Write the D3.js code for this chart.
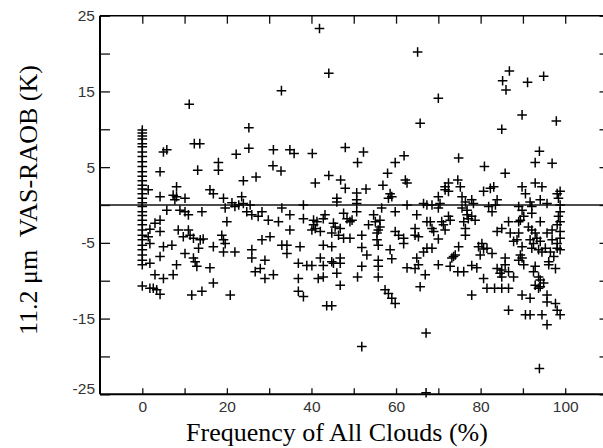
<!DOCTYPE html>
<html>
<head>
<meta charset="utf-8">
<script src="https://cdn.jsdelivr.net/npm/d3@7"></script>
<style>
  body { margin: 0; background: #fff; }
  svg { display: block; }
</style>
</head>
<body>
<svg id="chart" width="603" height="448"></svg>
<script>
// tick values / labels
var xTicks = [0, 10, 20, 30, 40, 50, 60, 70, 80, 90, 100];
var xLabels = [0, 20, 40, 60, 80, 100];
var yTicks = [-25, -20, -15, -10, -5, 0, 5, 10, 15, 20, 25];
var yLabels = [-25, -15, -5, 5, 15, 25];

// cases with 0% cloud frequency (the column at x = 0), VAS-RAOB in K
var clearBias = [9.9, 9.5, 9.1, 8.7, 8.1, 7.7, 7.0, 6.4, 5.7, 5.1, 4.4, 3.8, 3.2, 2.6, 2.1, 1.5,
    0.9, 0.3, -0.2, -0.9, -1.4, -2.0, -2.6, -3.3, -4.0, -4.6, -5.3, -5.9, -6.6, -7.3, -7.9, -10.7];

// [frequency of all clouds (%), VAS-RAOB (K)]
var cloudyCases = [
  [41.9,23.3],[44.1,17.4],[32.9,15.1],[11.1,13.3],[25.2,10.2],[25.2,7.5],[12.3,8.1],[13.6,8.1],
  [5.0,7.0],[5.8,7.3],[4.2,4.4],[4.2,1.1],[13.1,4.6],[18.0,5.6],[18.0,4.6],[22.2,6.7],
  [23.9,3.2],[26.9,3.7],[31.0,7.3],[30.9,5.2],[32.8,4.5],[34.9,7.3],[35.9,6.8],[40.2,6.8],
  [40.9,2.9],[44.1,3.9],[46.9,3.3],[48.0,2.2],[48.0,7.6],[46.0,0.9],[46.0,0.4],

  [1.4,2.0],[8.1,2.4],[7.3,1.3],[8.1,1.1],[7.7,0.7],[10.1,0.9],[16.0,2.0],[16.8,1.5],
  [19.2,0.9],[21.2,0.3],[23.5,1.1],[23.9,0.2],[25.5,0.0],[22.8,0.0],[21.9,-0.2],[33.0,-0.4],
  [5.8,-0.7],[8.9,-0.7],[10.1,-0.9],[10.9,-1.3],[14.1,-0.9],[19.6,-0.4],[20.0,-2.2],[24.7,-0.9],
  [25.9,-1.3],[27.4,-1.5],[28.3,-0.9],[29.8,-2.0],[32.2,-2.2],[4.2,-2.0],[3.0,-2.4],[1.8,-3.2],
  [4.2,-3.5],[8.5,-3.3],[10.9,-3.3],[11.3,-4.0],[9.7,-4.2],[12.1,-4.4],[13.7,-4.6],[14.4,-4.5],
  [18.8,-4.0],[19.2,-4.6],[19.6,-5.1],[16.8,-5.5],[1.4,-4.2],[1.8,-5.1],[7.0,-5.3],[5.0,-5.5],
  [28.3,-4.6],[30.2,-4.2],[33.0,-5.3],

  [10.1,-6.4],[12.1,-7.0],[12.5,-7.5],[13.3,-5.7],[19.2,-6.2],[21.9,-6.2],[4.2,-6.8],[1.8,-7.7],
  [8.1,-7.9],[12.9,-8.1],[16.0,-8.3],[3.0,-9.2],[5.0,-9.7],[7.3,-9.2],[16.8,-10.3],[1.8,-11.0],
  [2.6,-11.0],[3.4,-11.2],[4.2,-11.8],[11.7,-11.9],[14.1,-11.4],[20.8,-11.9],[25.9,-5.9],[25.9,-7.0],
  [29.0,-7.3],[26.7,-8.8],[27.9,-8.4],[29.0,-9.7],[31.0,-9.2],

  [52.3,7.0],[50.9,5.6],[59.8,5.6],[61.9,6.5],[58.0,4.2],[52.9,2.1],[50.7,1.6],[56.9,2.6],
  [62.2,3.3],[62.6,2.9],[58.6,1.5],[59.0,1.1],[58.2,0.9],[50.7,0.7],[50.7,0.2],[50.7,-0.9],
  [38.1,0.0],[56.6,-0.4],[59.8,-0.9],[62.6,0.0],[64.9,-1.3],[66.5,0.2],[67.3,0.0],[68.5,0.0],
  [34.9,-1.3],[38.1,-1.8],[40.5,-2.0],[41.3,-2.2],[40.5,-2.6],[43.2,-1.3],[42.8,-1.8],[45.2,-2.4],
  [45.6,-2.9],[46.8,-3.1],[47.6,-1.1],[48.4,-1.8],[49.1,-2.2],[49.6,-2.0],[54.7,-1.3],[55.1,-2.2],
  [56.2,-2.0],[56.2,-2.9],[55.8,-3.3],[53.5,-2.6],[34.9,-3.3],[40.1,-3.3],[40.9,-3.1],[42.1,-3.5],
  [44.8,-3.7],[46.4,-4.0],[47.6,-4.4],[49.1,-4.4],[51.9,-4.0],[55.5,-3.7],[55.5,-4.6],[55.8,-5.3],
  [59.8,-3.5],[60.6,-4.0],[61.8,-4.4],[61.8,-5.1],[64.5,-3.1],[64.5,-4.0],[65.3,-4.2],[67.3,-2.2],
  [34.2,-5.3],[37.3,-5.5],[42.8,-5.3],[44.8,-5.5],[51.9,-5.6],

  [34.2,-6.4],[36.9,-7.7],[38.9,-8.0],[40.1,-8.0],[42.1,-7.0],[42.8,-8.0],[44.8,-7.5],[45.2,-7.7],
  [46.8,-7.0],[46.8,-7.7],[36.9,-9.7],[41.6,-9.7],[42.8,-9.5],[46.0,-9.0],[46.8,-10.6],[36.9,-11.4],
  [38.1,-12.1],[43.6,-13.3],[44.8,-13.3],[53.1,-6.6],[51.9,-8.1],[50.9,-9.5],[58.6,-5.9],[55.8,-7.3],
  [55.8,-8.1],[55.8,-9.5],[59.0,-7.1],[57.4,-11.2],[58.2,-11.7],[59.0,-12.3],[59.8,-13.0],[62.6,-8.3],
  [64.9,-7.0],[65.3,-7.9],[64.5,-8.4],[65.7,-10.8],[67.1,-16.9],[66.5,-6.2],[67.3,-5.7],[66.9,-9.2],
  [51.9,-18.7],[93.9,-21.6],[67.1,-24.8],

  [65.1,20.2],[70.0,14.1],[65.7,10.8],[86.8,17.7],[85.2,16.4],[86.0,15.2],[91.1,16.2],[94.9,17.0],
  [89.8,11.9],[97.9,11.1],[85.0,10.0],[74.8,6.2],[80.9,5.1],[85.8,4.2],[93.9,7.1],[92.9,5.6],
  [96.9,5.5],

  [74.6,3.3],[75.2,2.4],[72.4,2.9],[71.6,2.4],[71.6,2.0],[72.4,1.8],[70.0,1.1],[70.4,0.2],
  [70.0,-0.4],[75.6,1.1],[76.4,0.4],[77.9,0.7],[78.3,0.2],[75.6,-0.4],[76.8,-0.7],[77.9,-1.5],
  [78.7,-2.0],[80.7,1.8],[82.3,2.2],[83.1,2.4],[83.9,0.7],[83.5,0.0],[81.9,-0.2],[82.7,-0.9],
  [89.8,2.4],[90.6,1.5],[89.0,-0.2],[89.8,-0.7],[90.2,-1.5],[89.4,-2.0],[91.7,0.4],[92.1,-0.2],
  [92.1,-1.1],[92.9,2.9],[94.5,2.4],[94.1,0.7],[95.7,0.2],[98.1,1.5],[98.8,1.8],[98.4,0.9],
  [98.8,0.0],[98.8,-0.9],[98.4,-1.5],[98.8,-2.2],

  [68.1,-2.2],[68.5,-3.1],[68.9,-3.5],[70.8,-2.2],[71.2,-2.6],[71.6,-3.3],[72.8,-2.0],[72.4,-1.5],
  [70.0,-4.5],[74.8,-5.5],[76.4,-4.0],[76.4,-3.1],[76.0,-2.2],[77.1,-1.8],[76.8,-1.3],[79.5,-5.5],
  [80.3,-5.1],[80.7,-5.8],[83.9,-3.5],[85.0,-3.1],[86.6,-2.2],[87.0,-3.7],[87.8,-4.8],[89.0,-2.2],
  [89.0,-3.7],[88.6,-4.6],[89.8,-5.5],[91.3,-2.9],[92.1,-3.3],[92.9,-3.7],[94.1,-2.2],[91.7,-4.6],
  [92.5,-5.1],[93.3,-4.4],[94.1,-4.8],[95.7,-3.7],[96.9,-3.3],[96.9,-4.6],[98.1,-5.1],[98.8,-4.4],
  [98.8,-3.5],[98.1,-2.6],

  [68.5,-5.7],[81.5,-5.7],[82.7,-6.4],[79.9,-6.6],[85.8,-7.0],[85.8,-7.9],[89.4,-6.6],[89.8,-7.0],
  [89.0,-7.3],[90.2,-7.9],[92.1,-5.7],[93.7,-5.9],[94.5,-6.2],[95.3,-5.7],[96.5,-6.2],[98.1,-5.7],
  [98.8,-5.9],[97.3,-6.8],[96.1,-7.5],[96.1,-7.9],[97.7,-8.4],[73.2,-7.0],[72.8,-8.1],[73.6,-6.8],
  [74.0,-6.6],[70.0,-7.9],[76.0,-8.8],[74.6,-8.8],[79.1,-8.3],[77.9,-8.0],[83.9,-8.4],[85.0,-8.6],
  [85.0,-9.5],[84.6,-9.0],[86.6,-8.8],[87.8,-9.5],[92.9,-8.1],[92.5,-8.8],[93.7,-9.5],[94.1,-9.9],
  [92.9,-10.6],[94.1,-10.8],[93.7,-11.0],[94.9,-10.3],[80.7,-9.7],[81.5,-11.0],[83.3,-11.0],[85.0,-11.0],
  [86.6,-11.0],[77.9,-11.9],[89.8,-11.9],[91.7,-12.3],[95.7,-11.9],[95.7,-12.8],[97.7,-13.0],[98.1,-13.9],
  [98.8,-14.5],[86.6,-13.9],[90.6,-14.5],[91.7,-14.5],[94.5,-14.5],[95.7,-15.8]
];

var points = clearBias.map(function(v) { return [0, v]; }).concat(cloudyCases);

var svg = d3.select("#chart");

var x = d3.scaleLinear().domain([-10, 110]).range([100, 607.5]);
var y = d3.scaleLinear().domain([-25, 25]).range([394.3, 15.7]);

var tickFont = '"Liberation Sans", Arial, sans-serif';

// inner ticks on all four sides
svg.append("g")
    .attr("transform", "translate(0," + y(25) + ")")
    .call(d3.axisTop(x).tickValues(xTicks).tickSize(-8).tickFormat(""));

svg.append("g")
    .attr("class", "x-axis")
    .attr("transform", "translate(0," + y(-25) + ")")
    .call(d3.axisBottom(x).tickValues(xTicks).tickSize(-6).tickPadding(7)
        .tickFormat(function(d) { return xLabels.indexOf(d) >= 0 ? d : ""; }));

svg.append("g")
    .attr("class", "y-axis")
    .attr("transform", "translate(" + x(-10) + ",0)")
    .call(d3.axisLeft(y).tickValues(yTicks).tickSize(-10).tickPadding(5)
        .tickFormat(function(d) { return yLabels.indexOf(d) >= 0 ? d : ""; }));

svg.append("g")
    .attr("transform", "translate(" + x(110) + ",0)")
    .call(d3.axisRight(y).tickValues(yTicks).tickSize(-8).tickFormat(""));

svg.selectAll(".domain").remove();
svg.selectAll(".tick line").attr("stroke", "#111").attr("stroke-width", 1.3);
svg.selectAll(".tick text")
    .attr("font-family", tickFont)
    .attr("font-size", 15.5)
    .attr("fill", "#333");
// the -25 label sits a little above its tick
svg.select(".y-axis").selectAll(".tick text")
    .filter(function(d) { return d === -25; })
    .attr("dy", "-0.05em");

// frame
svg.append("line")
    .attr("x1", x(-10)).attr("x2", x(-10)).attr("y1", y(25)).attr("y2", y(-25))
    .attr("stroke", "#000").attr("stroke-width", 2);
svg.append("line")
    .attr("x1", x(-10)).attr("x2", x(110)).attr("y1", y(-25)).attr("y2", y(-25))
    .attr("stroke", "#000").attr("stroke-width", 2);
svg.append("line")
    .attr("x1", x(-10)).attr("x2", x(110)).attr("y1", y(25)).attr("y2", y(25))
    .attr("stroke", "#000").attr("stroke-width", 1.5);
svg.append("line")
    .attr("x1", x(110)).attr("x2", x(110)).attr("y1", y(25)).attr("y2", y(-25))
    .attr("stroke", "#000").attr("stroke-width", 1.5);

// zero line
svg.append("line")
    .attr("x1", x(-10)).attr("x2", x(110)).attr("y1", y(0)).attr("y2", y(0))
    .attr("stroke", "#111").attr("stroke-width", 1.4);

// plus markers
var arm = 4.8;
svg.append("g")
    .selectAll("path")
    .data(points)
    .join("path")
    .attr("transform", function(d) { return "translate(" + x(d[0]) + "," + y(d[1]) + ")"; })
    .attr("d", "M" + (-arm) + ",0H" + arm + "M0," + (-arm) + "V" + arm)
    .attr("fill", "none")
    .attr("stroke", "#000")
    .attr("stroke-width", 1.5);

// axis titles
svg.append("text")
    .attr("x", 337)
    .attr("y", 441)
    .attr("text-anchor", "middle")
    .attr("font-family", '"Liberation Serif", "Times New Roman", serif')
    .attr("font-size", 26)
    .text("Frequency of All Clouds (%)");

svg.append("text")
    .attr("transform", "translate(37,200) rotate(-90)")
    .attr("text-anchor", "middle")
    .attr("font-family", '"Liberation Serif", "Times New Roman", serif')
    .attr("font-size", 26)
    .style("white-space", "pre")
    .text("11.2 \u03bcm  VAS-RAOB (K)");
</script>
</body>
</html>
